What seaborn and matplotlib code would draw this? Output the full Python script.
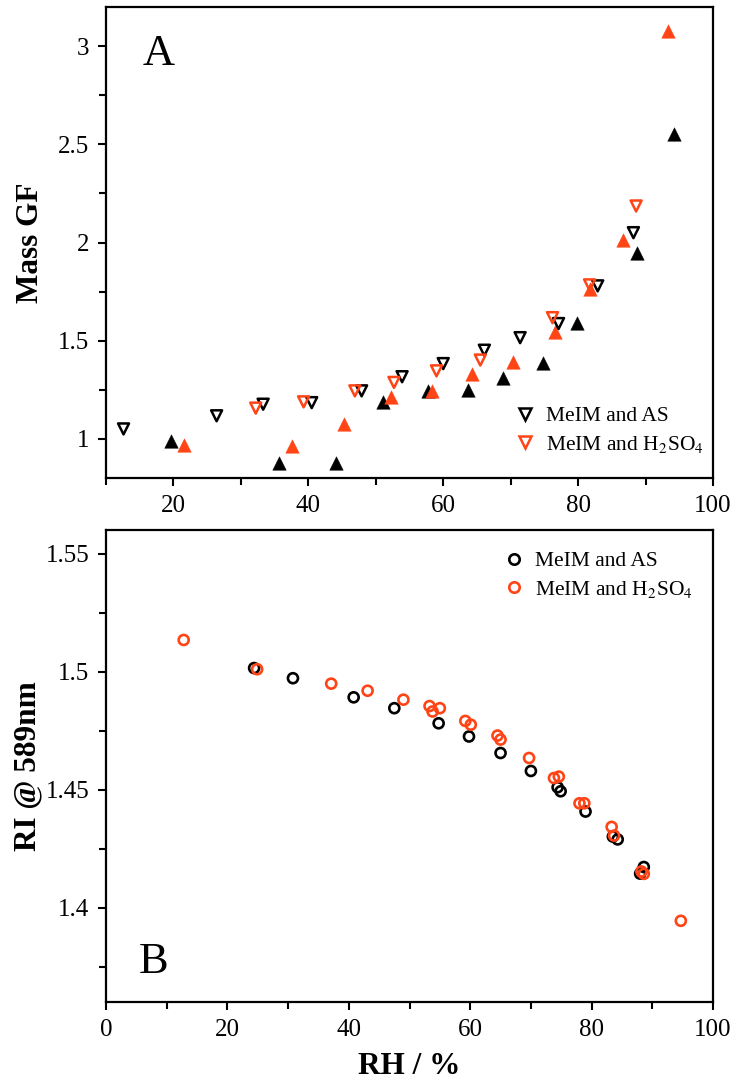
import numpy as np
import pandas as pd
import matplotlib
matplotlib.use("Agg")
import matplotlib.pyplot as plt
import seaborn as sns
from matplotlib.ticker import MultipleLocator, FuncFormatter
from matplotlib.lines import Line2D

# ---------------- data ----------------
# Panel A: Mass growth factor vs RH
as_open_rh = [12.6, 26.4, 33.3, 40.5, 47.9, 53.9, 60.0, 66.1, 71.4, 77.1, 82.9, 88.2]
as_open_gf = [1.05, 1.117, 1.176, 1.184, 1.244, 1.316, 1.383, 1.451, 1.515, 1.587, 1.779, 2.05]

h2so4_open_rh = [32.2, 39.3, 46.9, 52.7, 59.0, 65.5, 76.2, 81.7, 88.6]
h2so4_open_gf = [1.156, 1.188, 1.244, 1.287, 1.346, 1.401, 1.617, 1.784, 2.186]

as_fill_rh = [19.7, 35.7, 44.1, 51.1, 57.8, 63.6, 68.8, 74.8, 79.8, 88.8, 94.2]
as_fill_gf = [0.99, 0.874, 0.874, 1.185, 1.241, 1.248, 1.309, 1.388, 1.592, 1.948, 2.551]

h2so4_fill_rh = [21.5, 37.6, 45.3, 52.2, 58.3, 64.2, 70.3, 76.5, 81.7, 86.7, 93.3]
h2so4_fill_gf = [0.969, 0.964, 1.075, 1.214, 1.244, 1.332, 1.393, 1.546, 1.762, 2.011, 3.08]

# Panel B: refractive index at 589 nm vs RH
as_ri_rh = [24.4, 30.8, 40.8, 47.5, 54.8, 59.8, 65.0, 70.0, 74.4, 74.9, 79.0, 83.5, 84.3, 88.6, 88.0]
as_ri = [1.5015, 1.4972, 1.4891, 1.4845, 1.4781, 1.4725, 1.4655, 1.4579, 1.4510, 1.4493,
         1.4407, 1.4301, 1.4289, 1.4172, 1.4144]

h2so4_ri_rh = [12.8, 24.9, 37.1, 43.1, 49.0, 53.3, 53.8, 55.0, 59.2, 60.1, 64.5, 65.0, 69.7,
               73.8, 74.6, 78.0, 78.8, 83.3, 83.7, 88.6, 88.2, 94.7]
h2so4_ri = [1.5134, 1.5010, 1.4949, 1.4919, 1.4881, 1.4854, 1.4831, 1.4845, 1.4791, 1.4775,
            1.4729, 1.4712, 1.4634, 1.4549, 1.4555, 1.4442, 1.4442, 1.4342, 1.4305, 1.4143,
            1.4153, 1.3944]

legend_labels = ["MeIM and AS", "MeIM and H$_2$SO$_4$"]

# ---------------- style ----------------
sns.set_theme(style="white")
plt.rcParams["font.family"] = ["Liberation Serif", "DejaVu Serif"]
plt.rcParams["mathtext.fontset"] = "stix"
plt.rcParams["axes.linewidth"] = 1.6
for key in ("text.color", "axes.labelcolor", "xtick.color", "ytick.color",
            "axes.edgecolor"):
    plt.rcParams[key] = "black"

BLACK = "#000000"
RED = "#FF4416"

fig = plt.figure(figsize=(7.33, 10.84), dpi=100)
W, H = 733.0, 1084.0
axA = fig.add_axes([106 / W, 1 - 478 / H, (713 - 106) / W, (478 - 7) / H])
axB = fig.add_axes([106 / W, 1 - 1002 / H, (713 - 106) / W, (1002 - 530) / H])


def scatter(ax, x, y, marker, color, s, filled, lw):
    sns.scatterplot(x=x, y=y, marker=marker, s=s, ax=ax, color=color, legend=False)
    pc = ax.collections[-1]
    if filled:
        pc.set_facecolor(color)
        pc.set_edgecolor(color)
        pc.set_linewidth(0.3)
    else:
        pc.set_facecolor("none")
        pc.set_edgecolor(color)
        pc.set_linewidth(lw)


# Panel A
scatter(axA, as_fill_rh, as_fill_gf, "^", BLACK, 95, True, 0)
scatter(axA, h2so4_fill_rh, h2so4_fill_gf, "^", RED, 95, True, 0)
scatter(axA, as_open_rh, as_open_gf, "v", BLACK, 62, False, 1.8)
scatter(axA, h2so4_open_rh, h2so4_open_gf, "v", RED, 62, False, 1.8)

# Panel B
scatter(axB, as_ri_rh, as_ri, "o", BLACK, 52, False, 1.9)
scatter(axB, h2so4_ri_rh, h2so4_ri, "o", RED, 52, False, 1.9)

fmt = FuncFormatter(lambda v, p: "%g" % round(v, 4))

for ax in (axA, axB):
    for sp in ax.spines.values():
        sp.set_color("black")
        sp.set_linewidth(1.6)
    ax.tick_params(which="both", direction="out", top=False, right=False,
                   bottom=True, left=True, color="black", width=1.5,
                   labelsize=18, labelcolor="black")
    ax.tick_params(which="major", length=6, pad=6)
    ax.tick_params(which="minor", length=5)
    ax.xaxis.set_major_locator(MultipleLocator(20))
    ax.xaxis.set_minor_locator(MultipleLocator(10))
    ax.xaxis.set_major_formatter(fmt)
    ax.yaxis.set_major_formatter(fmt)
    ax.set_facecolor("white")
    ax.grid(False)

axA.set_xlim(10, 100)
axA.set_ylim(0.8, 3.2)
axA.yaxis.set_major_locator(MultipleLocator(0.5))
axA.yaxis.set_minor_locator(MultipleLocator(0.25))
axA.set_xlabel("")
axA.set_ylabel("Mass GF", fontsize=22.5, fontweight="bold", color="black")
axA.yaxis.set_label_coords(-0.100, 0.5)

axB.set_xlim(0, 100)
axB.set_ylim(1.36, 1.56)
axB.yaxis.set_major_locator(MultipleLocator(0.05))
axB.yaxis.set_minor_locator(MultipleLocator(0.025))
axB.set_xlabel("RH / %", fontsize=22.5, fontweight="bold", labelpad=8, color="black")
axB.set_ylabel("RI @ 589nm", fontsize=22.5, fontweight="bold", color="black")
axB.yaxis.set_label_coords(-0.105, 0.5)

axA.text(0.087, 0.90, "A", transform=axA.transAxes, fontsize=32,
         ha="center", va="center", color="black")
axB.text(0.078, 0.085, "B", transform=axB.transAxes, fontsize=32,
         ha="center", va="center", color="black")

# Legends
hA = [Line2D([], [], ls="", marker="v", mfc="none", mec=BLACK, mew=1.8, ms=8.5),
      Line2D([], [], ls="", marker="v", mfc="none", mec=RED, mew=1.8, ms=8.5)]
legA = axA.legend(hA, legend_labels, loc="upper left", bbox_to_anchor=(0.672, 0.152),
                  frameon=False, fontsize=15.5, handlelength=1.0, handletextpad=0.5,
                  borderpad=0, borderaxespad=0, labelspacing=0.35)

hB = [Line2D([], [], ls="", marker="o", mfc="none", mec=BLACK, mew=1.9, ms=7.5),
      Line2D([], [], ls="", marker="o", mfc="none", mec=RED, mew=1.9, ms=7.5)]
legB = axB.legend(hB, legend_labels, loc="upper left", bbox_to_anchor=(0.654, 0.955),
                  frameon=False, fontsize=15.5, handlelength=1.0, handletextpad=0.5,
                  borderpad=0, borderaxespad=0, labelspacing=0.35)
for leg in (legA, legB):
    for t in leg.get_texts():
        t.set_color("black")

fig.savefig("out.png", dpi=100, facecolor="white")
